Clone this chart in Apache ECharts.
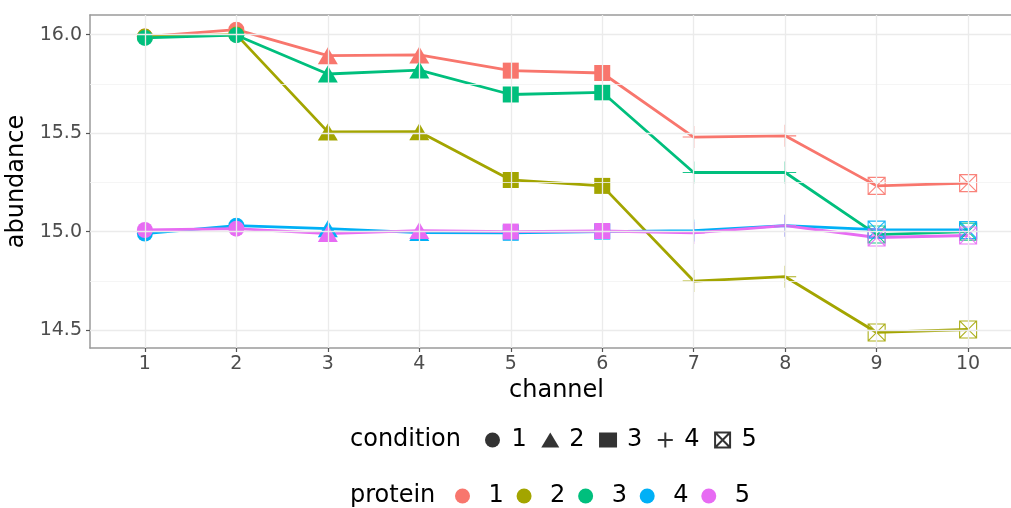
<!DOCTYPE html>
<html>
<head>
<meta charset="utf-8">
<script src="https://cdn.jsdelivr.net/npm/echarts@6/dist/echarts.min.js"></script>
<style>
  html, body { margin: 0; padding: 0; background: #ffffff; }
  #chart { width: 1011px; height: 508px; }
</style>
</head>
<body>
<div id="chart"></div>
<script>
// ---- data ----
const channels = [1, 2, 3, 4, 5, 6, 7, 8, 9, 10];
const conditionOfChannel = [1, 1, 2, 2, 3, 3, 4, 4, 5, 5];
const conditionNames = ['1', '2', '3', '4', '5'];
const proteinNames = ['1', '2', '3', '4', '5'];
const protein1 = [15.990, 16.025, 15.893, 15.897, 15.817, 15.805, 15.480, 15.486, 15.232, 15.246];
const protein2 = [15.990, 16.000, 15.506, 15.507, 15.262, 15.232, 14.749, 14.771, 14.488, 14.503];
const protein3 = [15.983, 15.997, 15.800, 15.820, 15.696, 15.707, 15.300, 15.300, 14.985, 15.000];
const protein4 = [14.990, 15.030, 15.015, 14.995, 14.994, 15.000, 15.005, 15.030, 15.010, 15.008];
const protein5 = [15.008, 15.015, 14.990, 15.005, 15.000, 15.003, 14.993, 15.030, 14.970, 14.980];
const yTicks = [14.5, 15.0, 15.5, 16.0];
const yMinorTicks = [14.75, 15.25, 15.75];

// ---- styling ----
const proteinValues = [protein1, protein2, protein3, protein4, protein5];
const proteinColors = ['#F8766D', '#A3A500', '#00BF7D', '#00B0F6', '#E76BF3'];
const PLUS = 'path://M5,0 L5,10 M0,5 L10,5';
const BOXX = 'path://M0,0 L10,0 L10,10 L0,10 Z M0,0 L10,10 M10,0 L0,10';
const condSymbol = ['circle', 'triangle', 'rect', PLUS, BOXX];
const condSize = [16, [20, 17], 16, 22, 17];
const condHollow = [false, false, false, true, true];
const FONT = 'DejaVu Sans';
const BORDER = '#9a9a9a';

const chart = echarts.init(document.getElementById('chart'), null, { renderer: 'canvas' });

const gridLineData = []
  .concat(yTicks.map(v => ({ yAxis: v, lineStyle: { color: '#EBEBEB', width: 1.3, type: 'solid' } })))
  .concat(yMinorTicks.map(v => ({ yAxis: v, lineStyle: { color: '#F3F3F3', width: 0.8, type: 'solid' } })))
  .concat(channels.map(c => ({ xAxis: c, lineStyle: { color: '#EBEBEB', width: 1.3, type: 'solid' } })));

const series = [];
series.push({
  name: '__grid', type: 'line', data: [], z: 1, silent: true,
  markLine: { silent: true, symbol: ['none', 'none'], label: { show: false }, animation: false, data: gridLineData }
});

proteinValues.forEach((vals, p) => {
  const color = proteinColors[p];
  series.push({
    name: 'p' + proteinNames[p],
    type: 'line',
    z: 3,
    color: color,
    symbol: 'circle',
    lineStyle: { color: color, width: 2.8 },
    itemStyle: { color: color },
    emphasis: { disabled: true },
    data: channels.map((ch, i) => {
      const c = conditionOfChannel[i] - 1;
      const item = { value: [ch, vals[i]], symbol: condSymbol[c], symbolSize: condSize[c] };
      if (condHollow[c]) {
        item.itemStyle = { color: 'rgba(0,0,0,0)', borderColor: color, borderWidth: 1.1, opacity: 0.9 };
      } else {
        item.itemStyle = { color: color, borderWidth: 0 };
      }
      return item;
    })
  });
});

// dummy series for the condition (shape) legend
conditionNames.forEach((n, c) => {
  series.push({
    name: 'c' + n,
    type: 'scatter',
    data: [],
    symbol: condSymbol[c],
    itemStyle: condHollow[c]
      ? { color: 'rgba(0,0,0,0)', borderColor: '#000', borderWidth: 1.2 }
      : { color: '#000' }
  });
});

const xMin = 0.4, xMax = 10.6;
const option = {
  animation: false,
  backgroundColor: '#ffffff',
  textStyle: { fontFamily: FONT },
  grid: { left: 90, top: 15, right: -12, bottom: 160, show: false, containLabel: false, outerBoundsMode: 'none' },
  xAxis: [{
    type: 'value', min: xMin, max: xMax,
    name: 'channel', nameLocation: 'middle', nameGap: 23,
    nameTextStyle: { fontFamily: FONT, fontSize: 24, color: '#000' },
    axisLine: { show: true, onZero: false, lineStyle: { color: BORDER, width: 1.5 } },
    axisTick: { show: true, length: 4, lineStyle: { color: '#555', width: 1.2 }, customValues: channels },
    axisLabel: { customValues: channels, margin: 7, fontFamily: FONT, fontSize: 19, color: '#4D4D4D' },
    splitLine: { show: false }, minorSplitLine: { show: false }
  }, {
    type: 'value', min: xMin, max: xMax, position: 'top',
    axisLine: { show: true, onZero: false, lineStyle: { color: BORDER, width: 1.5 } },
    axisTick: { show: false }, axisLabel: { show: false },
    splitLine: { show: false }, minorSplitLine: { show: false }
  }],
  yAxis: {
    type: 'value', min: 14.409, max: 16.0995, position: 'left',
    name: 'abundance', nameLocation: 'middle', nameGap: 53, nameRotate: 90,
    nameTextStyle: { fontFamily: FONT, fontSize: 24, color: '#000' },
    axisLine: { show: true, onZero: false, lineStyle: { color: BORDER, width: 1.5 } },
    axisTick: { show: true, length: 4, lineStyle: { color: '#555', width: 1.2 }, customValues: yTicks },
    axisLabel: { customValues: yTicks, margin: 8, fontFamily: FONT, fontSize: 19, color: '#4D4D4D',
      formatter: v => Number(v).toFixed(1) },
    splitLine: { show: false }, minorSplitLine: { show: false }
  },
  legend: [
    {
      left: 480, top: 422, orient: 'horizontal',
      itemWidth: 18, itemHeight: 15, itemGap: 14.5,
      data: conditionNames.map(n => 'c' + n),
      formatter: name => name.slice(1),
      textStyle: { fontFamily: FONT, fontSize: 24, color: '#000', padding: [0, 0, 0, 5], lineHeight: 26 },
      selectedMode: false
    },
    {
      left: 450, top: 478, orient: 'horizontal',
      itemWidth: 20, itemHeight: 15, itemGap: 12.8,
      data: proteinNames.map(n => ({ name: 'p' + n, icon: 'circle' })),
      formatter: name => name.slice(1),
      textStyle: { fontFamily: FONT, fontSize: 24, color: '#000', padding: [0, 0, 0, 11], lineHeight: 26 },
      selectedMode: false
    }
  ],
  graphic: [
    { type: 'text', left: 350, top: 428, style: { text: 'condition', font: '24px "DejaVu Sans"', fill: '#000' } },
    { type: 'text', left: 350, top: 484, style: { text: 'protein', font: '24px "DejaVu Sans"', fill: '#000' } }
  ],
  series: series
};

chart.setOption(option);
</script>
</body>
</html>
